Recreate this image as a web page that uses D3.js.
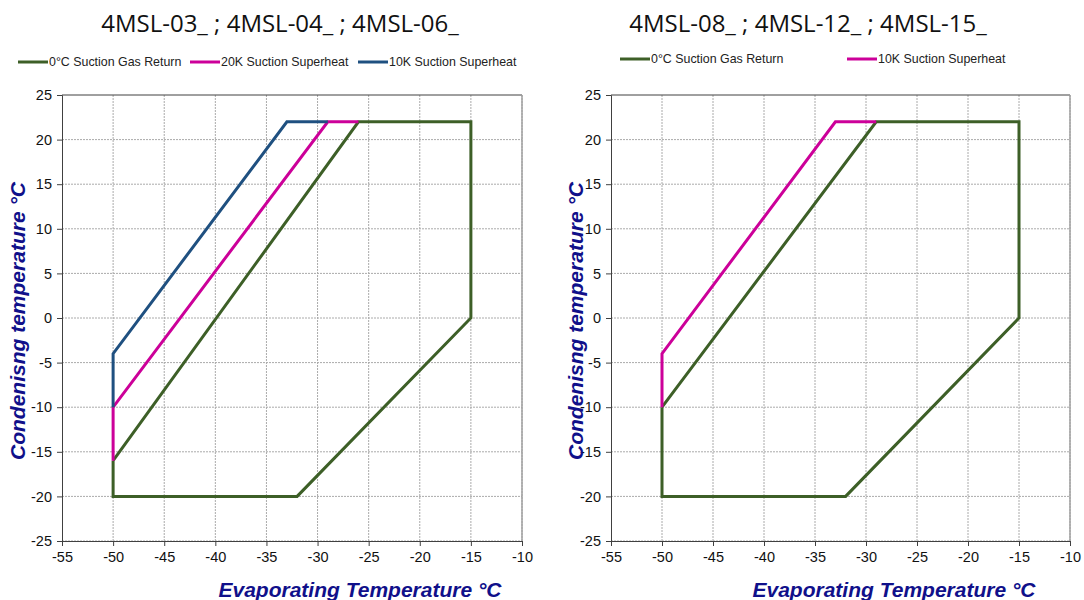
<!DOCTYPE html>
<html>
<head>
<meta charset="utf-8">
<script src="https://cdn.jsdelivr.net/npm/d3@7"></script>
<style>
  html, body { margin: 0; padding: 0; background: #fff; }
  svg { display: block; }
</style>
</head>
<body>
<svg id="chart" width="1084" height="600"></svg>
<script>
// ---- Data ----
const xTicks = [-55, -50, -45, -40, -35, -30, -25, -20, -15, -10];
const yTicks = [25, 20, 15, 10, 5, 0, -5, -10, -15, -20, -25];

const titleLeft = "4MSL-03_ ; 4MSL-04_ ; 4MSL-06_";
const titleRight = "4MSL-08_ ; 4MSL-12_ ; 4MSL-15_";
const xLabel = "Evaporating Temperature °C";
const yLabel = "Condenisng temperature °C";

// Left chart series [evaporating, condensing]
const leftGreenName = "0°C Suction Gas Return";
const leftGreen = [[-50, -16], [-50, -20], [-32, -20], [-15, 0], [-15, 22], [-26, 22], [-50, -16]];
const leftPinkName = "20K Suction Superheat";
const leftPink = [[-50, -16], [-50, -10], [-29, 22], [-26, 22]];
const leftBlueName = "10K Suction Superheat";
const leftBlue = [[-50, -10], [-50, -4], [-33, 22], [-29, 22]];

// Right chart series
const rightGreenName = "0°C Suction Gas Return";
const rightGreen = [[-50, -10], [-50, -20], [-32, -20], [-15, 0], [-15, 22], [-29, 22], [-50, -10]];
const rightPinkName = "10K Suction Superheat";
const rightPink = [[-50, -10], [-50, -4], [-33, 22], [-29, 22]];

// ---- Styles ----
const GREEN = "#3D5F27", PINK = "#CC0099", BLUE = "#1F5080", NAVY = "#10108A";

const svg = d3.select("#chart");

function panel(cfg) {
  const x = d3.scaleLinear().domain([-55, -10]).range([cfg.x0, cfg.x1]);
  const y = d3.scaleLinear().domain([-25, 25]).range([541, 95]);
  const g = svg.append("g");

  // title
  g.append("text").attr("x", cfg.titleX).attr("y", 32)
    .attr("text-anchor", "middle")
    .style("font-family", "'Open Sans', 'Noto Sans', sans-serif")
    .style("font-size", "24px").attr("fill", "#111")
    .text(cfg.title);

  // legend
  cfg.legend.forEach(l => {
    g.append("line").attr("x1", l.x).attr("x2", l.x + 30)
      .attr("y1", cfg.legendY).attr("y2", cfg.legendY)
      .attr("stroke", l.color).attr("stroke-width", 3);
    g.append("text").attr("x", l.x + 31).attr("y", cfg.legendY + 4)
      .style("font-family", "'Liberation Sans', Arial, sans-serif")
      .style("font-size", "12.4px").attr("fill", "#222")
      .text(l.name);
  });

  // grid
  g.append("g").selectAll("line").data(xTicks.slice(1))
    .join("line")
    .attr("x1", d => x(d)).attr("x2", d => x(d))
    .attr("y1", y(25)).attr("y2", y(-25))
    .attr("stroke", "#AAAAAA").attr("stroke-width", 1)
    .attr("stroke-dasharray", "2,1");
  g.append("g").selectAll("line").data(yTicks.slice(1))
    .join("line")
    .attr("x1", x(-55)).attr("x2", x(-10))
    .attr("y1", d => y(d)).attr("y2", d => y(d))
    .attr("stroke", "#AAAAAA").attr("stroke-width", 1)
    .attr("stroke-dasharray", "2,1");

  // border top/right
  g.append("line").attr("x1", x(-55)).attr("x2", x(-10))
    .attr("y1", y(25)).attr("y2", y(25))
    .attr("stroke", "#404040").attr("stroke-width", 1);
  g.append("line").attr("x1", x(-10)).attr("x2", x(-10))
    .attr("y1", y(25)).attr("y2", y(-25))
    .attr("stroke", "#A0A0A0").attr("stroke-width", 1.5);

  // axes
  const fmt = d => String(d);
  const xAxis = d3.axisBottom(x).tickValues(xTicks).tickFormat(fmt).tickSize(5).tickPadding(6);
  const yAxis = d3.axisLeft(y).tickValues(yTicks).tickFormat(fmt).tickSize(5).tickPadding(5);
  const gx = g.append("g").attr("transform", `translate(0,${y(-25)})`).call(xAxis);
  const gy = g.append("g").attr("transform", `translate(${x(-55)},0)`).call(yAxis);
  [gx, gy].forEach(a => {
    a.select(".domain").attr("stroke", "#404040");
    a.selectAll(".tick line").attr("stroke", "#404040");
    a.selectAll(".tick text")
      .style("font-family", "'Liberation Sans', Arial, sans-serif")
      .style("font-size", "14.5px").attr("fill", "#111");
  });

  // axis labels
  g.append("text").attr("x", cfg.xLabelX).attr("y", 597)
    .attr("text-anchor", "middle")
    .style("font-family", "'Liberation Sans', Arial, sans-serif")
    .style("font-size", "21px").style("font-weight", "bold").style("font-style", "italic")
    .attr("fill", NAVY).text(xLabel);
  g.append("text")
    .attr("transform", `translate(${cfg.yLabelX},321) rotate(-90)`)
    .attr("text-anchor", "middle")
    .style("font-family", "'Liberation Sans', Arial, sans-serif")
    .style("font-size", "21px").style("font-weight", "bold").style("font-style", "italic")
    .attr("fill", NAVY).text(yLabel);

  // series
  const line = d3.line().x(d => x(d[0])).y(d => y(d[1]));
  cfg.series.forEach(s => {
    g.append("path").datum(s.data).attr("d", line)
      .attr("fill", "none").attr("stroke", s.color)
      .attr("stroke-width", 3).attr("stroke-linejoin", "miter");
  });
}

panel({
  x0: 62, x1: 522, titleX: 280, legendY: 62, xLabelX: 360, yLabelX: 25,
  title: titleLeft,
  legend: [
    { x: 18, name: leftGreenName, color: GREEN },
    { x: 190, name: leftPinkName, color: PINK },
    { x: 358, name: leftBlueName, color: BLUE }
  ],
  series: [
    { data: leftGreen, color: GREEN },
    { data: leftPink, color: PINK },
    { data: leftBlue, color: BLUE }
  ]
});

panel({
  x0: 611, x1: 1070, titleX: 808, legendY: 59, xLabelX: 894, yLabelX: 583,
  title: titleRight,
  legend: [
    { x: 620, name: rightGreenName, color: GREEN },
    { x: 847, name: rightPinkName, color: PINK }
  ],
  series: [
    { data: rightGreen, color: GREEN },
    { data: rightPink, color: PINK }
  ]
});
</script>
</body>
</html>
